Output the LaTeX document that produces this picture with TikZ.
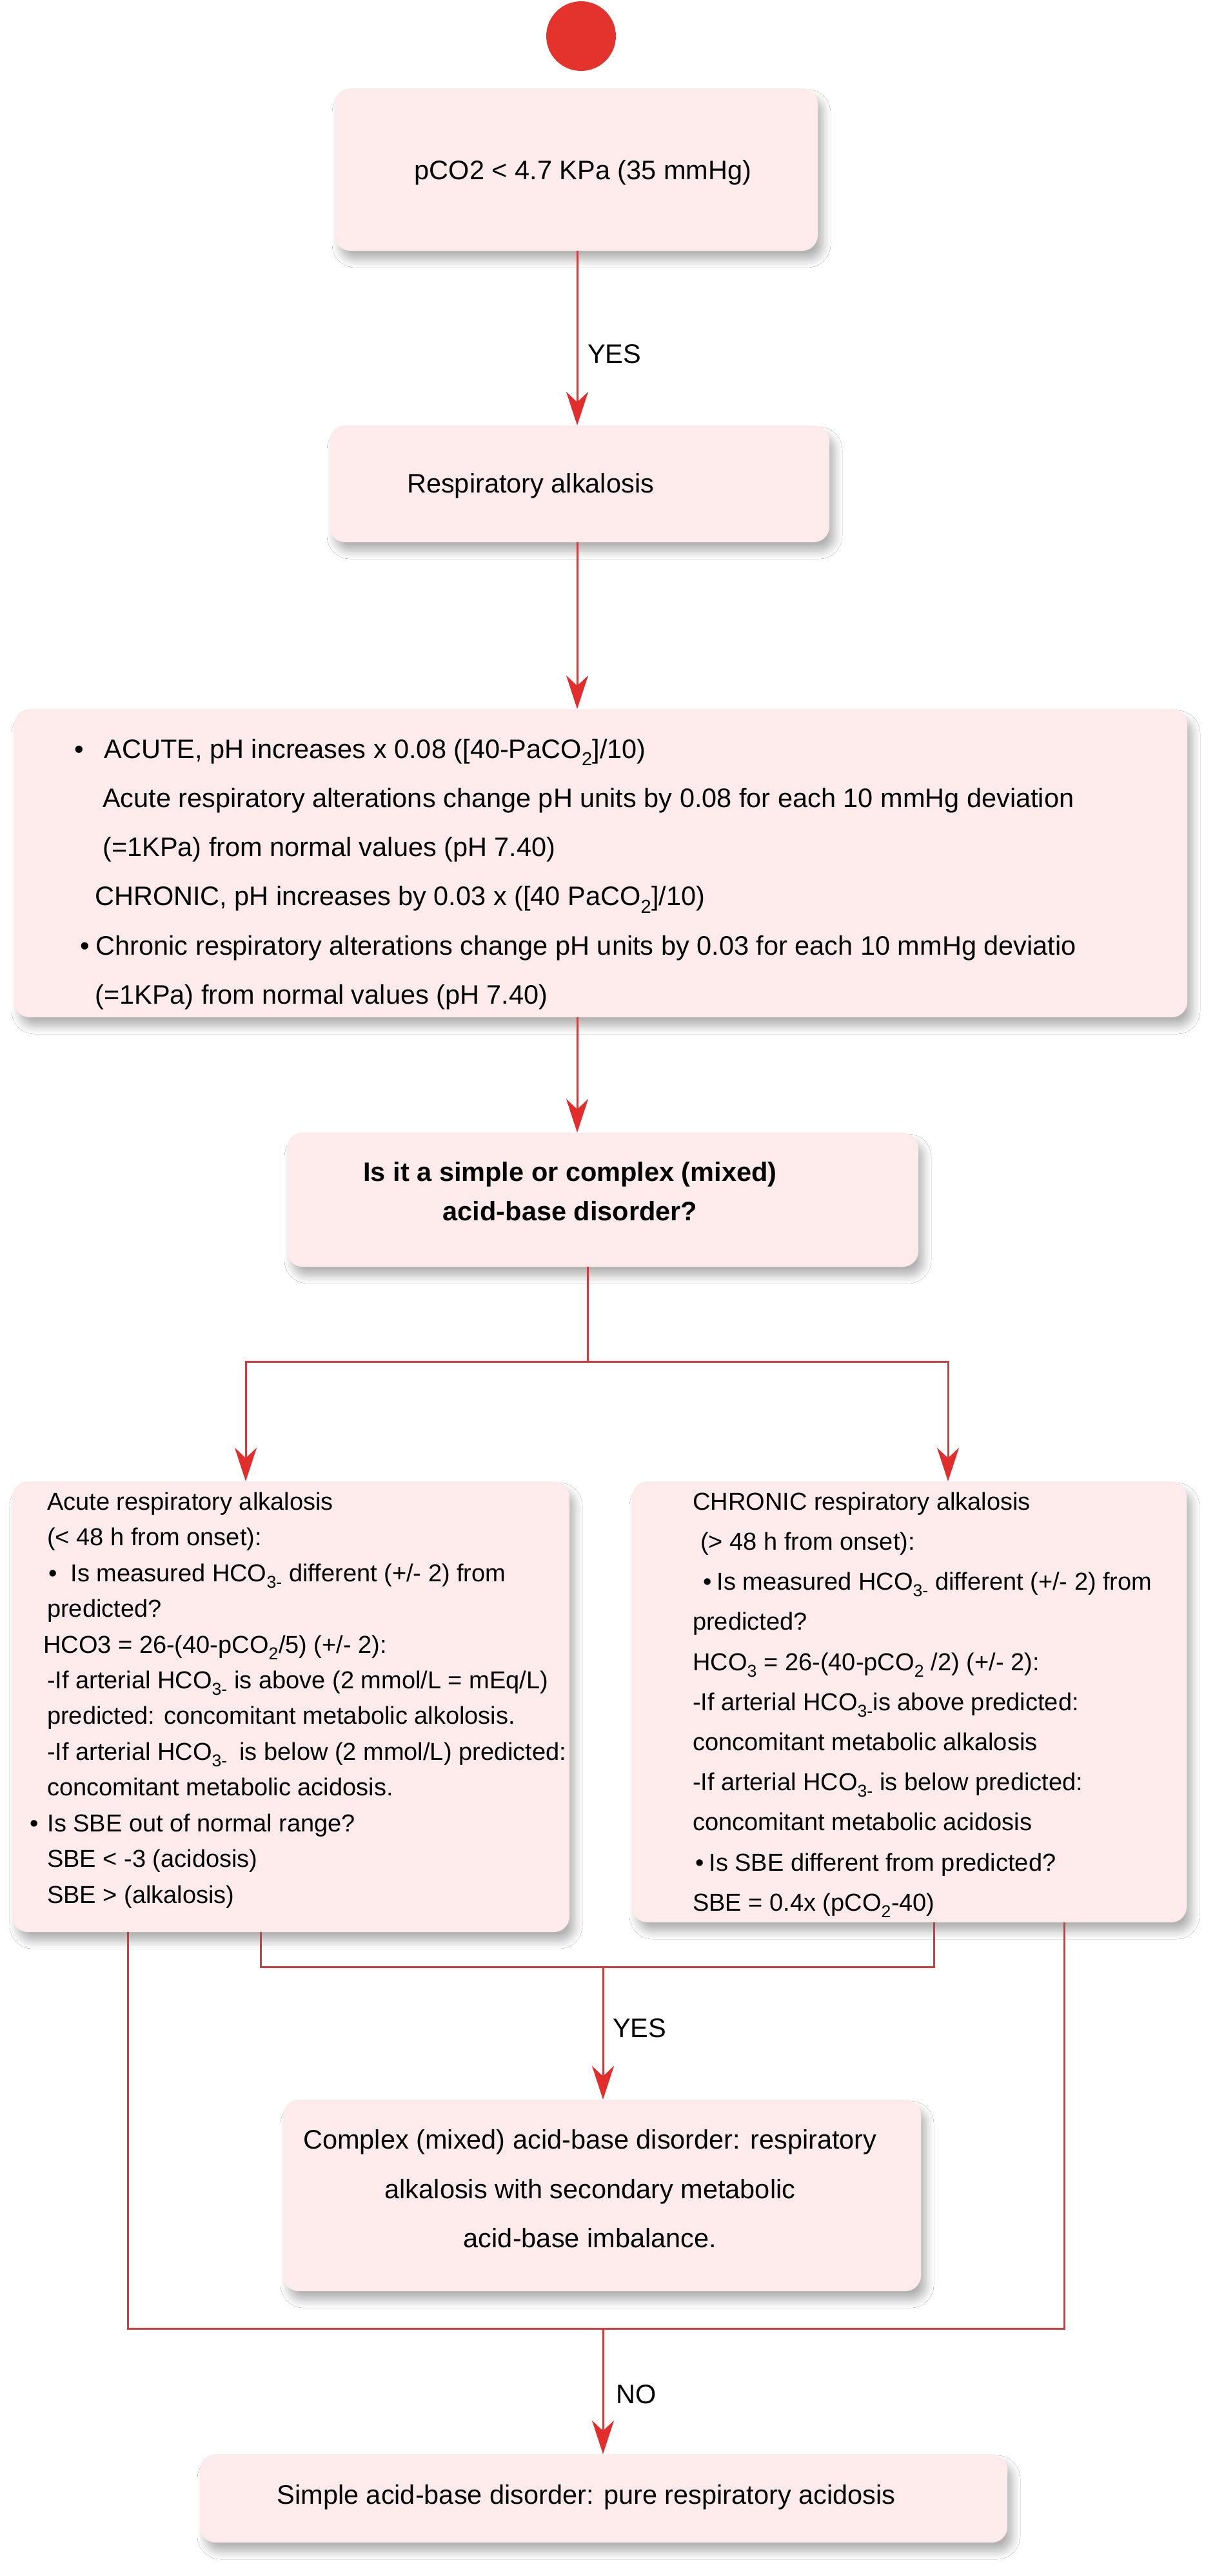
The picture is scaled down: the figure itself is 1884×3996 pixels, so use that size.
\documentclass[tikz,border=0pt]{standalone}
\usepackage{fontspec}
\setmainfont{Liberation Sans}
\usetikzlibrary{arrows.meta,shadows,shadows.blur}
\definecolor{boxfill}{RGB}{253,235,236}
\definecolor{linered}{RGB}{203,62,62}
\definecolor{tipred}{RGB}{226,45,45}
\definecolor{dotred}{RGB}{228,50,44}
\tikzset{
  box/.style={rectangle, rounded corners=24pt, fill=boxfill, draw=none, inner sep=0pt,
    blur shadow={shadow xshift=8pt, shadow yshift=-14pt, shadow blur radius=12pt, shadow opacity=30, shadow blur steps=12}},
  conn/.style={draw=linered, line width=3pt},
  arr/.style={conn, -{Stealth[length=52pt,width=34pt,inset=16pt,color=tipred]}},
  arrtwo/.style={conn, {Stealth[length=52pt,width=34pt,inset=16pt,color=tipred]}-{Stealth[length=52pt,width=34pt,inset=16pt,color=tipred]}},
  bigtxt/.style={inner sep=0pt, font=\fontsize{41.5}{76.2}\selectfont},
  lbl/.style={inner sep=0pt, font=\fontsize{41.5}{50}\selectfont},
}
\begin{document}
\begin{tikzpicture}[x=1pt,y=-1pt]
\fill[white] (0,0) rectangle (1884,3996);
\useasboundingbox (0,0) rectangle (1884,3996);

% start dot
\node[circle, fill=dotred, minimum size=108pt, inner sep=0pt] (start) at (901,56) {};

% boxes
\node[box, minimum width=749pt, minimum height=252pt] (b1) at (893.5,263) {};
\node[box, minimum width=775pt, minimum height=181pt] (b2) at (898.5,750.5) {};
\node[box, minimum width=1819pt, minimum height=478pt] (b3) at (931.5,1339) {};
\node[box, minimum width=979pt, minimum height=208pt] (b4) at (934.5,1861) {};
\node[box, minimum width=864pt, minimum height=699pt] (b5) at (451,2647.5) {};
\node[box, minimum width=860pt, minimum height=684pt] (b6) at (1410,2640) {};
\node[box, minimum width=989pt, minimum height=297pt] (b7) at (933.5,3405.5) {};
\node[box, minimum width=1252pt, minimum height=137pt] (b8) at (936,3875.5) {};

% texts
\node[lbl, anchor=base] (t1) at (904,278) {pCO2 < 4.7 KPa (35 mmHg)};
\node[lbl, anchor=base west] (t2) at (631,764) {Respiratory alkalosis};

\node[bigtxt, align=left, anchor=north west] (t3) at (112,1122.7) {%
\strut\hspace*{3pt}•\hspace*{32pt}ACUTE, pH increases x 0.08 ([40-PaCO\textsubscript{2}]/10)\\
\strut\hspace*{47pt}Acute respiratory alterations change pH units by 0.08 for each 10 mmHg deviation\\
\strut\hspace*{47pt}(=1KPa) from normal values (pH 7.40)\\
\strut\hspace*{35pt}CHRONIC, pH increases by 0.03 x ([40 PaCO\textsubscript{2}]/10)\\
\strut\hspace*{12pt}•\hspace*{10pt}Chronic respiratory alterations change pH units by 0.03 for each 10 mmHg deviatio\\
\strut\hspace*{35pt}(=1KPa) from normal values (pH 7.40)};

\node[inner sep=0pt, font=\bfseries\fontsize{41.5}{61}\selectfont, align=center, anchor=north] (t4) at (884,1790) {%
\strut Is it a simple or complex (mixed)\\
\strut acid-base disorder?};

\node[inner sep=0pt, font=\fontsize{38}{55.45}\selectfont, align=left, anchor=north west] (t5) at (45,2303.2) {%
\strut\hspace*{28pt}Acute respiratory alkalosis\\
\strut\hspace*{28pt}(< 48 h from onset):\\
\strut\hspace*{30pt}•\hspace*{21pt}Is measured HCO\textsubscript{3-} different (+/- 2) from\\
\strut\hspace*{28pt}predicted?\\
\strut\hspace*{22pt}HCO3 = 26-(40-pCO\textsubscript{2}/5) (+/- 2):\\
\strut\hspace*{28pt}-If arterial HCO\textsubscript{3-} is above (2 mmol/L = mEq/L)\\
\strut\hspace*{28pt}predicted: concomitant metabolic alkolosis.\\
\strut\hspace*{28pt}-If arterial HCO\textsubscript{3-}\hspace*{8pt} is below (2 mmol/L) predicted:\\
\strut\hspace*{28pt}concomitant metabolic acidosis.\\
\strut\hspace*{1pt}•\hspace*{14pt}Is SBE out of normal range?\\
\strut\hspace*{28pt}SBE < -3 (acidosis)\\
\strut\hspace*{28pt}SBE > (alkalosis)};

\node[inner sep=0pt, font=\fontsize{38}{62.2}\selectfont, align=left, anchor=north west] (t6) at (1070,2298.5) {%
\strut\hspace*{4pt}CHRONIC respiratory alkalosis\\
\strut\hspace*{16pt}(> 48 h from onset):\\
\strut\hspace*{20pt}•\hspace*{8pt}Is measured HCO\textsubscript{3-} different (+/- 2) from\\
\strut\hspace*{4pt}predicted?\\
\strut\hspace*{4pt}HCO\textsubscript{3} = 26-(40-pCO\textsubscript{2} /2) (+/- 2):\\
\strut\hspace*{4pt}-If arterial HCO\textsubscript{3-}is above predicted:\\
\strut\hspace*{4pt}concomitant metabolic alkalosis\\
\strut\hspace*{4pt}-If arterial HCO\textsubscript{3-} is below predicted:\\
\strut\hspace*{4pt}concomitant metabolic acidosis\\
\strut\hspace*{8pt}•\hspace*{8pt}Is SBE different from predicted?\\
\strut\hspace*{4pt}SBE = 0.4x (pCO\textsubscript{2}-40)};

\node[inner sep=0pt, font=\fontsize{41.5}{76.5}\selectfont, align=center, anchor=north] (t7) at (915,3280) {%
\strut Complex (mixed) acid-base disorder: respiratory\\
\strut alkalosis with secondary metabolic\\
\strut acid-base imbalance.};

\node[lbl, anchor=base] (t8) at (909,3884) {Simple acid-base disorder: pure respiratory acidosis};

% helper coordinates
\coordinate (cx) at (895,0);
\coordinate (split) at (911,2112);
\coordinate (sl) at (381,2112);
\coordinate (sr) at (1470,2112);
\coordinate (ya) at (404,3051);
\coordinate (yb) at (1448,3051);
\coordinate (ym) at (935,3051);
\coordinate (na) at (198,3612);
\coordinate (nb) at (1650,3612);
\coordinate (nm) at (935,3612);

% connectors
\draw[arr] (b1.south -| cx) -- (b2.north -| cx);
\draw[arr] (b2.south -| cx) -- (b3.north -| cx);
\draw[arr] (b3.south -| cx) -- (b4.north -| cx);
\draw[conn] (b4.south -| split) -- (split);
\draw[arrtwo] (b5.north -| sl) -- (sl) -- (sr) -- (b6.north -| sr);
\draw[conn] (b5.south -| ya) -- (ya) -- (yb) -- (b6.south -| yb);
\draw[arr] (ym) -- (b7.north -| ym);
\draw[conn] (b5.south -| na) -- (na) -- (nb) -- (b6.south -| nb);
\draw[arr] (nm) -- (b8.north -| nm);

% labels
\node[lbl, anchor=base west] (yes1) at (911,563) {YES};
\node[lbl, anchor=base west] (yes2) at (950,3160) {YES};
\node[lbl, anchor=base west] (no) at (955,3728) {NO};
\end{tikzpicture}
\end{document}
